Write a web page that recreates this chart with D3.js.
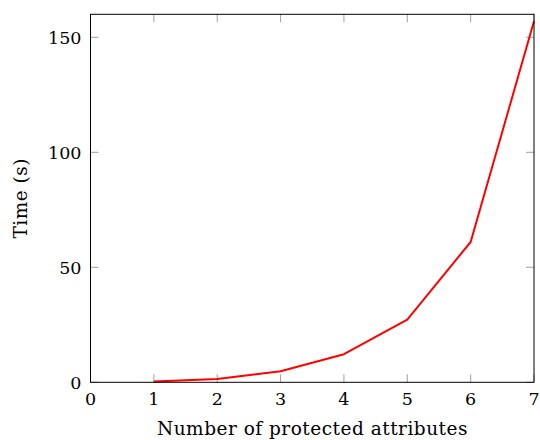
<!DOCTYPE html>
<html><head><meta charset="utf-8">
<script src="https://cdn.jsdelivr.net/npm/d3@7"></script>
<style>body{margin:0;background:#fff}svg text{font-family:"DejaVu Serif",serif;fill:#000}</style>
</head><body>
<svg id="c" width="540" height="440"></svg>
<script>
const xValues = [1, 2, 3, 4, 5, 6, 7];
const timeValues = [0.3, 1.4, 4.8, 12.2, 27.3, 61, 157];
const xTicks = [0, 1, 2, 3, 4, 5, 6, 7];
const yTicks = [0, 50, 100, 150];
const xLabel = "Number of protected attributes";
const yLabel = "Time (s)";

const svg = d3.select("#c");
const L = 90.5, R = 534, T = 14.3, B = 382.3;
const x = d3.scaleLinear().domain([0, 7]).range([L, R]);
const y = d3.scaleLinear().domain([0, 160]).range([B, T]);
const tickLen = 8, fs = 17.5, lfs = 18.5;

const g = svg.append("g");
xTicks.forEach(t => {
  g.append("line").attr("x1", x(t)).attr("x2", x(t)).attr("y1", B).attr("y2", B - tickLen).attr("stroke", "#888").attr("stroke-width", 0.8);
  g.append("line").attr("x1", x(t)).attr("x2", x(t)).attr("y1", T).attr("y2", T + tickLen).attr("stroke", "#888").attr("stroke-width", 0.8);
  g.append("text").attr("x", x(t)).attr("y", B + 23).attr("text-anchor", "middle").attr("font-size", fs).text(t);
});
yTicks.forEach(t => {
  g.append("line").attr("x1", L).attr("x2", L + tickLen).attr("y1", y(t)).attr("y2", y(t)).attr("stroke", "#888").attr("stroke-width", 0.8);
  g.append("line").attr("x1", R).attr("x2", R - tickLen).attr("y1", y(t)).attr("y2", y(t)).attr("stroke", "#888").attr("stroke-width", 0.8);
  g.append("text").attr("x", L - 9).attr("y", y(t)).attr("dy", "0.36em").attr("text-anchor", "end").attr("font-size", fs).text(t);
});

const line = d3.line().x((d, i) => x(xValues[i])).y(d => y(d));
svg.append("path").datum(timeValues).attr("d", line).attr("fill", "none").attr("stroke", "#ff0000").attr("stroke-width", 2).attr("stroke-linejoin", "round");

svg.append("rect").attr("x", L).attr("y", T).attr("width", R - L).attr("height", B - T).attr("fill", "none").attr("stroke", "#000").attr("stroke-width", 1);

svg.append("text").attr("x", 312.5).attr("y", 435).attr("text-anchor", "middle").attr("font-size", lfs).attr("letter-spacing", 0.5).text(xLabel);
svg.append("text").attr("transform", `translate(27,${(T + B) / 2}) rotate(-90)`).attr("text-anchor", "middle").attr("font-size", lfs).attr("letter-spacing", 0.5).text(yLabel);
</script>
</body></html>
